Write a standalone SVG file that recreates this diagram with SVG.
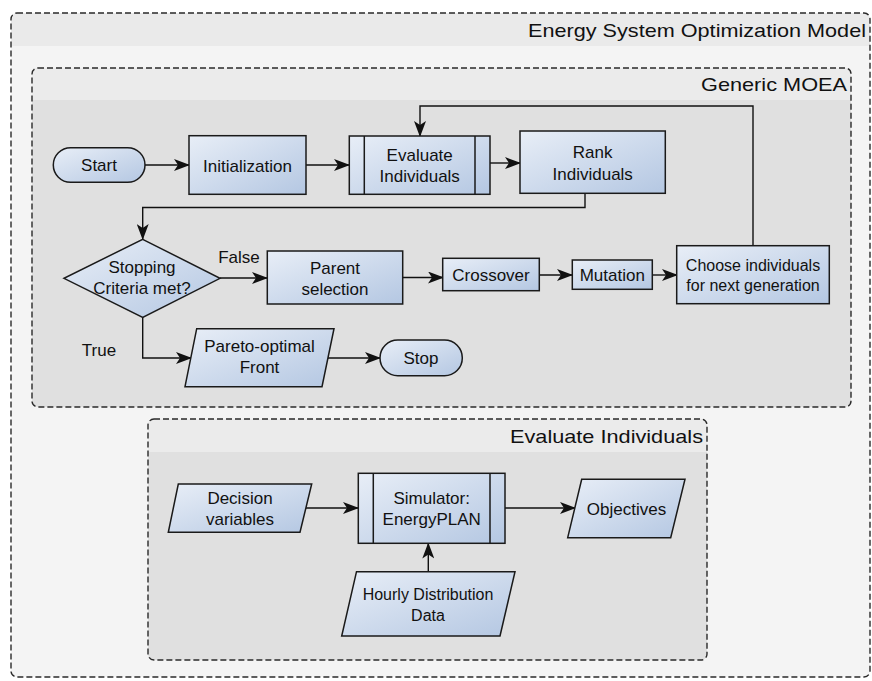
<svg xmlns="http://www.w3.org/2000/svg" width="872" height="681" viewBox="0 0 872 681">
<style>
.node{stroke:#1a1a1a;stroke-width:1.5;fill:url(#g)}
.lbl{font-family:"Liberation Sans",Arial,sans-serif;font-size:17px;fill:#111;text-anchor:middle}
.sm{font-size:16px}
.hdr{font-family:"Liberation Sans",Arial,sans-serif;font-size:19px;fill:#111;text-anchor:end}
.cont{fill:none;stroke:#2a2a2a;stroke-width:1.4;stroke-dasharray:6,3}
.conn{fill:none;stroke:#111;stroke-width:1.4}
</style>
<defs>
<linearGradient id="g" x1="0" y1="0" x2="1" y2="1">
<stop offset="0" stop-color="#e8eef7"/>
<stop offset="1" stop-color="#b4c7e2"/>
</linearGradient>
<marker id="a" markerUnits="userSpaceOnUse" markerWidth="16" markerHeight="12" viewBox="0 0 16 12" refX="15" refY="6" orient="auto">
<path d="M0,0 L16,6 L0,12 L4,6 z" fill="#111"/>
</marker>
</defs>
<rect width="872" height="681" fill="#ffffff"/>

<g id="container-outer">
<rect x="11" y="13" width="859" height="664" rx="6" fill="#f4f4f4"/>
<path d="M11,46 V19 a6,6 0 0 1 6,-6 H864 a6,6 0 0 1 6,6 V46 z" fill="#eaeaea"/>
<rect x="11" y="13" width="859" height="664" rx="6" class="cont"/>
<text class="hdr" x="866" y="37" textLength="338" lengthAdjust="spacingAndGlyphs">Energy System Optimization Model</text>
</g>

<g id="container-moea">
<rect x="32" y="68" width="819" height="339" rx="6" fill="#e0e0e0"/>
<path d="M32,100 V74 a6,6 0 0 1 6,-6 H845 a6,6 0 0 1 6,6 V100 z" fill="#ebebeb"/>
<rect x="32" y="68" width="819" height="339" rx="6" class="cont"/>
<text class="hdr" x="847" y="91" textLength="146" lengthAdjust="spacingAndGlyphs">Generic MOEA</text>
</g>

<g id="container-eval">
<rect x="148" y="419" width="559" height="241" rx="6" fill="#e0e0e0"/>
<path d="M148,452 V425 a6,6 0 0 1 6,-6 H701 a6,6 0 0 1 6,6 V452 z" fill="#ebebeb"/>
<rect x="148" y="419" width="559" height="241" rx="6" class="cont"/>
<text class="hdr" x="703" y="443" textLength="193" lengthAdjust="spacingAndGlyphs">Evaluate Individuals</text>
</g>

<g id="connectors">
<path class="conn" d="M145,165 H189" marker-end="url(#a)"/>
<path class="conn" d="M306,165 H349" marker-end="url(#a)"/>
<path class="conn" d="M490,163 H520" marker-end="url(#a)"/>
<path class="conn" d="M585,193 V207.5 H142.7 V239" marker-end="url(#a)"/>
<path class="conn" d="M220,278 H267" marker-end="url(#a)"/>
<path class="conn" d="M403,277.5 H443" marker-end="url(#a)"/>
<path class="conn" d="M539,275 H572" marker-end="url(#a)"/>
<path class="conn" d="M652,275 H677" marker-end="url(#a)"/>
<path class="conn" d="M753,245.7 V106 H420 V136" marker-end="url(#a)"/>
<path class="conn" d="M142.7,317 V358 H191" marker-end="url(#a)"/>
<path class="conn" d="M328,358 H380" marker-end="url(#a)"/>
<path class="conn" d="M306,508 H358" marker-end="url(#a)"/>
<path class="conn" d="M505,508 H575" marker-end="url(#a)"/>
<path class="conn" d="M428.3,572 V543.5" marker-end="url(#a)"/>
<text class="lbl" x="239" y="263">False</text>
<text class="lbl" x="99" y="356">True</text>
</g>

<g id="start">
<rect class="node" x="53.3" y="147.7" width="91.7" height="34.6" rx="17.3"/>
<text class="lbl" x="99" y="171">Start</text>
</g>
<g id="initialization">
<rect class="node" x="189" y="135.7" width="117" height="58.6"/>
<text class="lbl" x="247.5" y="171.5">Initialization</text>
</g>
<g id="evaluate">
<rect class="node" x="349.3" y="136" width="140.7" height="58.3"/>
<path class="node" d="M364.3,136 V194.3 M475,136 V194.3" fill="none"/>
<text class="lbl" x="419.7" y="161">Evaluate</text>
<text class="lbl" x="419.7" y="182">Individuals</text>
</g>
<g id="rank">
<rect class="node" x="520" y="131" width="145.3" height="62.3"/>
<text class="lbl" x="592.7" y="158">Rank</text>
<text class="lbl" x="592.7" y="179.5">Individuals</text>
</g>
<g id="stopping">
<polygon class="node" points="142.7,239.3 220,278.3 142.7,317.3 64,278.3"/>
<text class="lbl" x="142" y="273">Stopping</text>
<text class="lbl" x="142" y="293.5">Criteria met?</text>
</g>
<g id="parent">
<rect class="node" x="267.3" y="251" width="135.4" height="53"/>
<text class="lbl" x="335" y="274">Parent</text>
<text class="lbl" x="335" y="295">selection</text>
</g>
<g id="crossover">
<rect class="node" x="442.7" y="258.3" width="96.6" height="32.4"/>
<text class="lbl" x="491" y="280.5">Crossover</text>
</g>
<g id="mutation">
<rect class="node" x="572.3" y="260" width="80" height="29.3"/>
<text class="lbl" x="612.3" y="280.5">Mutation</text>
</g>
<g id="choose">
<rect class="node" x="676.7" y="245.7" width="152.6" height="58"/>
<text class="lbl sm" x="753" y="271">Choose individuals</text>
<text class="lbl sm" x="753" y="291">for next generation</text>
</g>
<g id="pareto">
<polygon class="node" points="196.7,328.7 334,328.7 322,386.7 185,386.7"/>
<text class="lbl" x="259.5" y="352">Pareto-optimal</text>
<text class="lbl" x="259.5" y="373">Front</text>
</g>
<g id="stop">
<rect class="node" x="380" y="340" width="82.3" height="35.7" rx="17.8"/>
<text class="lbl" x="421" y="364">Stop</text>
</g>
<g id="decision">
<polygon class="node" points="178.3,484 311.7,484 300,532.3 168.3,532.3"/>
<text class="lbl" x="240" y="504">Decision</text>
<text class="lbl" x="240" y="525">variables</text>
</g>
<g id="simulator">
<rect class="node" x="358.3" y="473.3" width="146.7" height="70"/>
<path class="node" d="M373.3,473.3 V543.3 M490,473.3 V543.3" fill="none"/>
<text class="lbl" x="431.7" y="504">Simulator:</text>
<text class="lbl" x="431.7" y="525">EnergyPLAN</text>
</g>
<g id="objectives">
<polygon class="node" points="581.7,479.3 685,479.3 670.7,537.7 567.7,537.7"/>
<text class="lbl" x="626.5" y="515">Objectives</text>
</g>
<g id="hourly">
<polygon class="node" points="356.5,571.7 515,571.7 500,636 341.7,636"/>
<text class="lbl sm" x="428" y="600">Hourly Distribution</text>
<text class="lbl sm" x="428" y="621">Data</text>
</g>
</svg>
